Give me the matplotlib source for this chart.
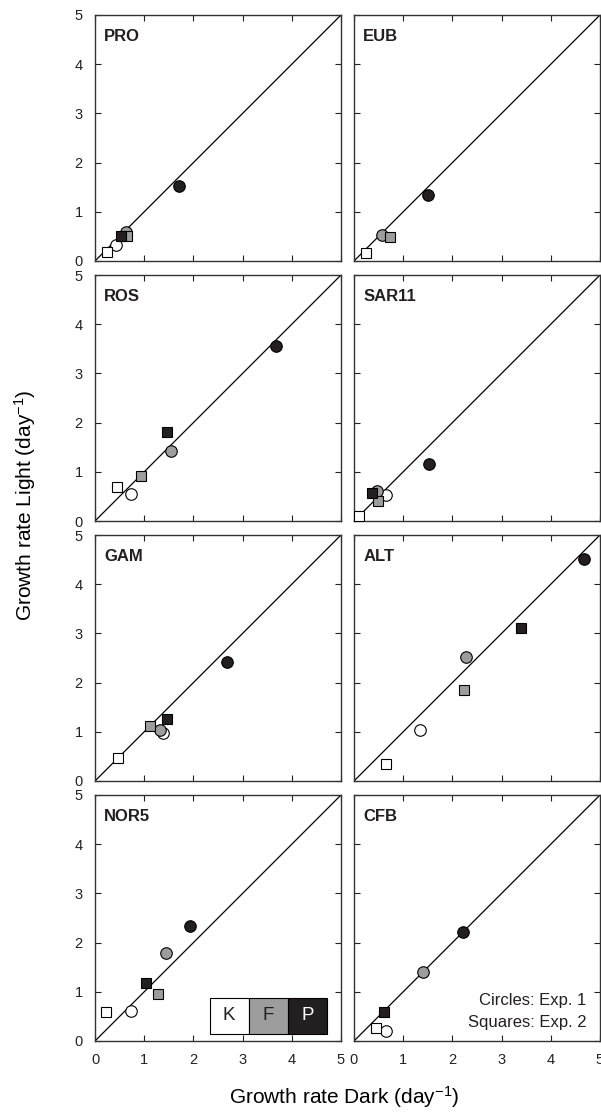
import numpy as np
import matplotlib
matplotlib.use("Agg")
import matplotlib.pyplot as plt
from matplotlib.patches import Rectangle

plt.rcParams['font.family'] = ['Liberation Sans', 'DejaVu Sans']
plt.rcParams['mathtext.default'] = 'regular'

nan = np.nan

# treatment order in each list: K, F, P
treatments = ["K", "F", "P"]
fill_colors = ["white", "#9d9d9d", "#231f20"]

panel_names = ["PRO", "EUB", "ROS", "SAR11", "GAM", "ALT", "NOR5", "CFB"]

# Exp. 1 (circles): dark / light growth rates
pro_circ_dark = [0.43, 0.63, 1.70]
pro_circ_light = [0.33, 0.59, 1.53]
eub_circ_dark = [nan, 0.56, 1.50]
eub_circ_light = [nan, 0.52, 1.34]
ros_circ_dark = [0.73, 1.54, 3.67]
ros_circ_light = [0.54, 1.43, 3.56]
sar_circ_dark = [0.65, 0.46, 1.52]
sar_circ_light = [0.53, 0.60, 1.16]
gam_circ_dark = [1.39, 1.33, 2.69]
gam_circ_light = [0.97, 1.03, 2.42]
alt_circ_dark = [1.35, 2.27, 4.67]
alt_circ_light = [1.03, 2.53, 4.52]
nor_circ_dark = [0.73, 1.45, 1.93]
nor_circ_light = [0.61, 1.78, 2.33]
cfb_circ_dark = [0.65, 1.41, 2.22]
cfb_circ_light = [0.21, 1.41, 2.22]

# Exp. 2 (squares): dark / light growth rates
pro_sq_dark = [0.24, 0.65, 0.53]
pro_sq_light = [0.18, 0.51, 0.51]
eub_sq_dark = [0.25, 0.73, nan]
eub_sq_light = [0.17, 0.48, nan]
ros_sq_dark = [0.44, 0.94, 1.46]
ros_sq_light = [0.69, 0.92, 1.80]
sar_sq_dark = [0.11, 0.49, 0.37]
sar_sq_light = [0.10, 0.41, 0.56]
gam_sq_dark = [0.46, 1.12, 1.46]
gam_sq_light = [0.46, 1.11, 1.27]
alt_sq_dark = [0.65, 2.23, 3.39]
alt_sq_light = [0.34, 1.84, 3.11]
nor_sq_dark = [0.22, 1.28, 1.03]
nor_sq_light = [0.59, 0.96, 1.18]
cfb_sq_dark = [0.44, nan, 0.60]
cfb_sq_light = [0.26, nan, 0.58]

circ_dark = [pro_circ_dark, eub_circ_dark, ros_circ_dark, sar_circ_dark,
             gam_circ_dark, alt_circ_dark, nor_circ_dark, cfb_circ_dark]
circ_light = [pro_circ_light, eub_circ_light, ros_circ_light, sar_circ_light,
              gam_circ_light, alt_circ_light, nor_circ_light, cfb_circ_light]
sq_dark = [pro_sq_dark, eub_sq_dark, ros_sq_dark, sar_sq_dark,
           gam_sq_dark, alt_sq_dark, nor_sq_dark, cfb_sq_dark]
sq_light = [pro_sq_light, eub_sq_light, ros_sq_light, sar_sq_light,
            gam_sq_light, alt_sq_light, nor_sq_light, cfb_sq_light]

ticks = [0, 1, 2, 3, 4, 5]

W, H = 601, 1113
fig = plt.figure(figsize=(W / 100, H / 100), dpi=100)

col_left = [95, 354]
col_width = 246
row_top = [15, 275, 535, 795]
row_height = 246

axes = []
for i, name in enumerate(panel_names):
    r, c = divmod(i, 2)
    left = col_left[c] / W
    bottom = (H - row_top[r] - row_height) / H
    ax = fig.add_axes([left, bottom, col_width / W, row_height / H])
    axes.append(ax)

    ax.plot([0, 5], [0, 5], color="black", lw=0.9, zorder=1)

    for k in range(3):
        ax.plot(circ_dark[i][k], circ_light[i][k], "o", ms=8.3,
                mfc=fill_colors[k], mec="black", mew=0.8, zorder=3)
    for k in range(3):
        ax.plot(sq_dark[i][k], sq_light[i][k], "s", ms=7.6,
                mfc=fill_colors[k], mec="black", mew=0.8, zorder=4)

    ax.set_xlim(0, 5)
    ax.set_ylim(0, 5)
    ax.set_xticks(ticks)
    ax.set_yticks(ticks)
    ax.tick_params(direction="in", top=True, right=True, length=4,
                   width=0.8, labelsize=10.5, pad=9, colors="#222222")
    if c == 1:
        ax.tick_params(labelleft=False)
    if r < 3:
        ax.tick_params(labelbottom=False)
    for s in ax.spines.values():
        s.set_linewidth(1.0)
        s.set_color("#333333")

    ax.text(0.037, 0.945, name, transform=ax.transAxes, fontsize=12,
            fontweight="bold", ha="left", va="top", color="#231f20")

# K / F / P treatment key in NOR5 panel
ax = axes[6]
x0, y0, cw, ch = 2.33, 0.14, 0.795, 0.74
for k in range(3):
    ax.add_patch(Rectangle((x0 + k * cw, y0), cw, ch, facecolor=fill_colors[k],
                           edgecolor="black", lw=0.8, zorder=5))
    ax.text(x0 + (k + 0.5) * cw, y0 + ch / 2, treatments[k], ha="center",
            va="center", fontsize=13.5, zorder=6,
            color="white" if k == 2 else "#231f20")

# marker key in CFB panel
ax = axes[7]
ax.text(0.945, 0.165, "Circles: Exp. 1", transform=ax.transAxes,
        ha="right", va="center", fontsize=12, color="#231f20")
ax.text(0.945, 0.075, "Squares: Exp. 2", transform=ax.transAxes,
        ha="right", va="center", fontsize=12, color="#231f20")

fig.text(25 / W, 1 - 505 / H, "Growth rate Light (day$^{-1}$)", rotation=90,
         ha="center", va="center", fontsize=15)
fig.text(344 / W, 1 - 1097 / H, "Growth rate Dark (day$^{-1}$)",
         ha="center", va="center", fontsize=15)

fig.savefig("out.png", dpi=100)
